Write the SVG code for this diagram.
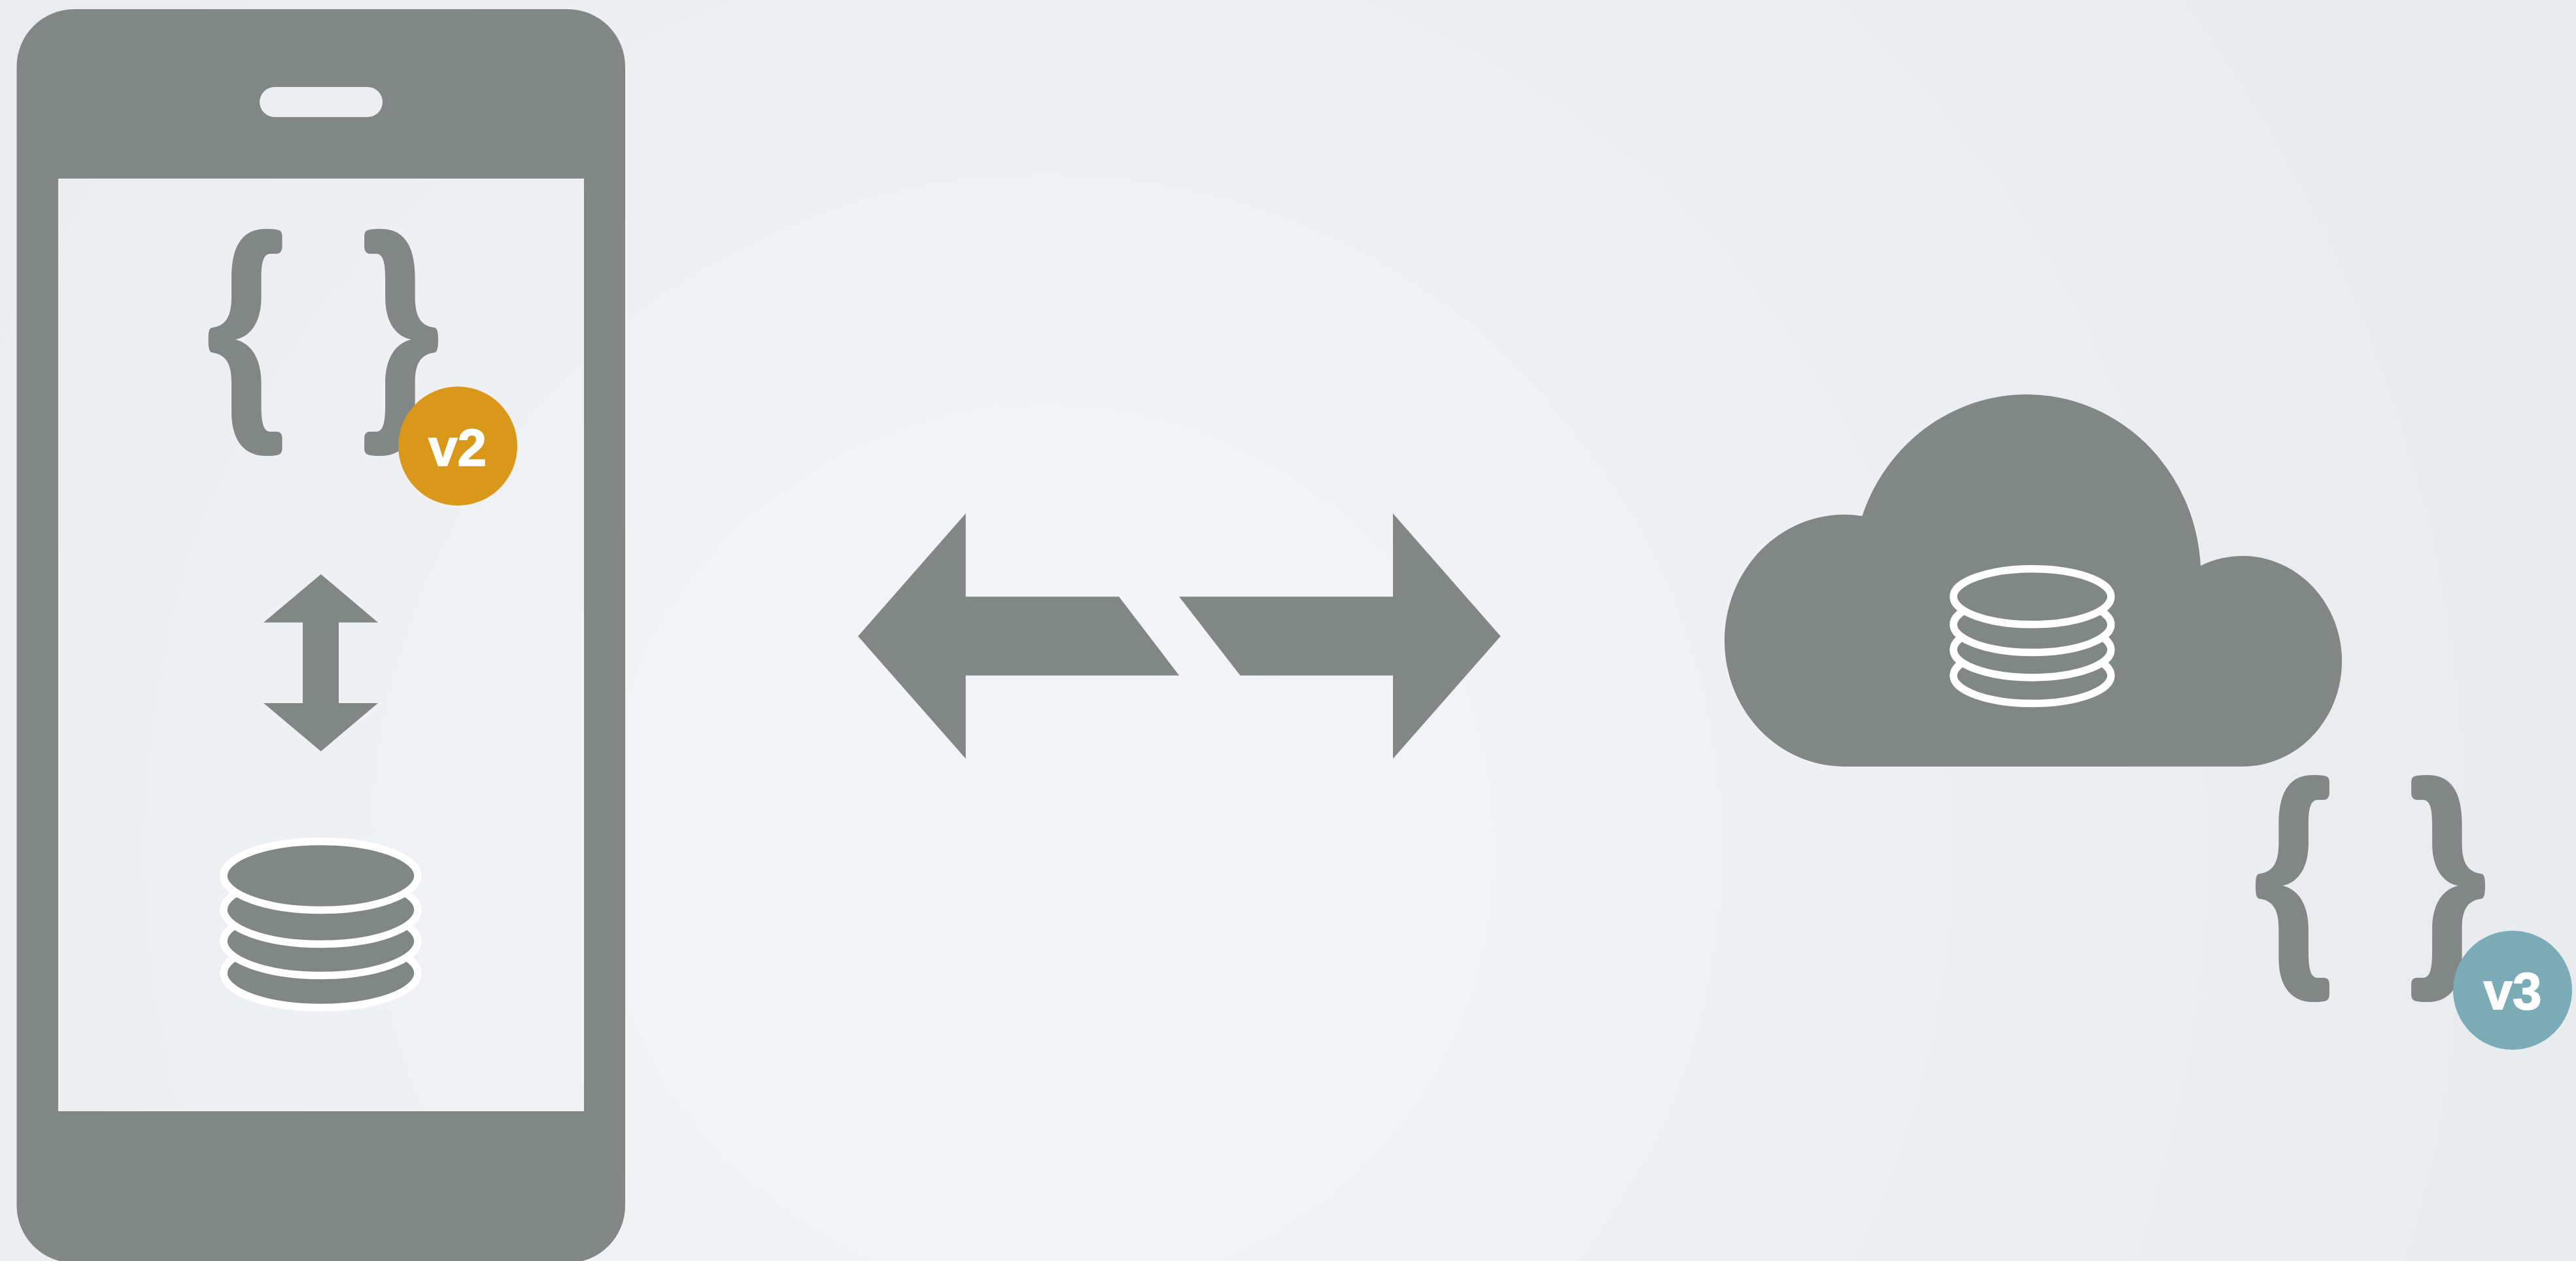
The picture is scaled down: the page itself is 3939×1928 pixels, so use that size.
<svg xmlns="http://www.w3.org/2000/svg" width="3939" height="1928" viewBox="0 0 3939 1928">
<style>
.g{fill:#818785}
.db{fill:#818785;stroke:#fff;stroke-width:11.500}
.t{fill:#fff;stroke:#fff;stroke-width:1.500;font-family:"Liberation Sans",Arial,sans-serif;font-weight:700;font-size:80px;text-anchor:middle}
</style>
<defs>
<radialGradient id="bg" gradientUnits="userSpaceOnUse" cx="1600" cy="1300" r="2500">
<stop offset="0.15" stop-color="#f3f4f8"/><stop offset="0.55" stop-color="#edeff3"/><stop offset="1" stop-color="#e8ebee"/>
</radialGradient>
<path id="brace" class="g" d="M151.500 42C151.500 33 148 32 143 31C138 30 132 30 126 30C95 30 74 50 74 105L74 133C74 165 65 178 44 181C40 182 38.600 187 38.600 199C38.600 212 40 218 44 219C65 222 74 235 74 265L74 310C74 355 95 377 126 377C132 377 138 377 143 376C148 375 151.500 373 151.500 365L151.500 350C151.500 343 148 340 143 340L134 340C124 340 119.500 330 119.500 300L119.500 265C119.500 230 105 205 80 199.300C105 194 119.500 170 119.500 135L119.500 105C119.500 78 124 68 134 68L143 68C148 68 151.500 64 151.500 57Z"/>
</defs>
<rect width="3939" height="1928" fill="url(#bg)"/>
<g id="phone">
<path class="g" fill-rule="evenodd" d="M113.500 14H868A88 88 0 0 1 956 102V1843A88 88 0 0 1 868 1931H113.500A88 88 0 0 1 25.500 1843V102A88 88 0 0 1 113.500 14ZM89 273V1699H893V273ZM420 133A23 23 0 0 0 420 179H562A23 23 0 0 0 562 133Z"/>
</g>
<g id="phone-json">
<use href="#brace" transform="translate(280,320)"/>
<use href="#brace" transform="translate(708.600,320) scale(-1,1)"/>
</g>
<g id="badge-v2">
<circle cx="700" cy="682" r="91" fill="#d9981a"/>
<text class="t" x="699.500" y="711.500">v2</text>
</g>
<g id="phone-db">
<ellipse class="db" cx="490.500" cy="1488" rx="148.500" ry="52.500"/>
<ellipse class="db" cx="490.500" cy="1439" rx="148.500" ry="52.500"/>
<ellipse class="db" cx="490.500" cy="1391" rx="148.500" ry="52.500"/>
<ellipse class="db" cx="490.500" cy="1339" rx="148.500" ry="52.500"/>
</g>
<g id="cloud">
<path class="g" d="M2817 1172A183 192.600 0 1 1 2847.400 789A266.400 277 0 0 1 3365 865A152 161 0 1 1 3428 1172Z"/>
</g>
<g id="cloud-db">
<ellipse class="db" cx="3107.500" cy="1033" rx="120.500" ry="42.500"/>
<ellipse class="db" cx="3107.500" cy="993.400" rx="120.500" ry="42.500"/>
<ellipse class="db" cx="3107.500" cy="955" rx="120.500" ry="42.500"/>
<ellipse class="db" cx="3107.500" cy="912.300" rx="120.500" ry="42.500"/>
</g>
<g id="cloud-json">
<use href="#brace" transform="translate(3410.400,1155)"/>
<use href="#brace" transform="translate(3838.600,1155) scale(-1,1)"/>
</g>
<g id="badge-v3">
<circle cx="3842" cy="1514" r="91" fill="#7aabb6"/>
<text class="t" x="3842" y="1543">v3</text>
</g>
<g id="connectors">
<polygon class="g" points="490.700,878 578,951.700 518,951.700 518,1075 578,1075 490.700,1148.700 403,1075 463,1075 463,951.700 403,951.700"/>
<polygon class="g" points="1312,972.700 1476.700,785 1476.700,912.300 1711,912.300 1803,1032.700 1476.700,1032.700 1476.700,1160"/>
<polygon class="g" points="2294.600,972.700 2130,785 2130,912.300 1803,912.300 1896.400,1032.700 2130,1032.700 2130,1160"/>
</g>
</svg>
